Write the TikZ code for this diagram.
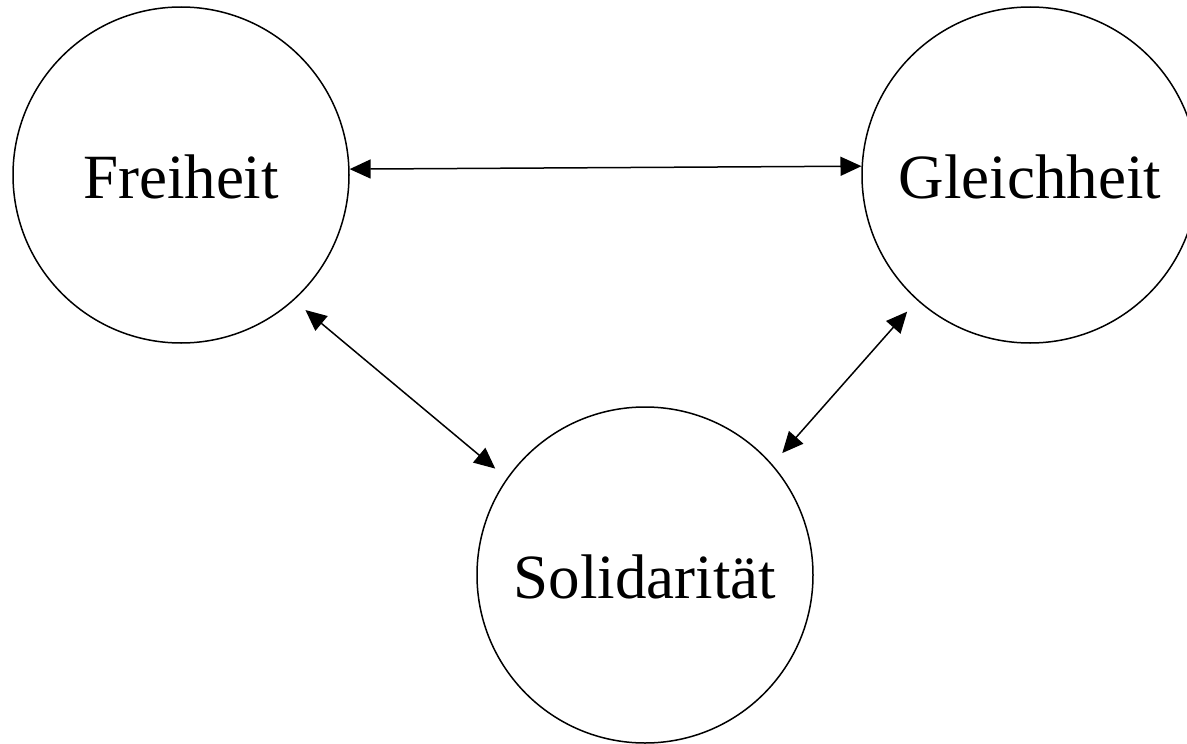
\documentclass[tikz,border=0pt]{standalone}
\usepackage{fontspec}
\setmainfont{Liberation Serif}
\usetikzlibrary{arrows.meta}
\begin{document}
\begin{tikzpicture}[x=1pt,y=-1pt,
  idea/.style={circle,draw,line width=1.5pt,minimum size=336pt,inner sep=0pt,
    font=\fontsize{63}{63}\selectfont,text height=46pt,text depth=0pt},
  tip/.style={Triangle[length=21pt,width=19pt]},
  link/.style={line width=1.5pt,{Triangle[length=21pt,width=19pt]}-{Triangle[length=21pt,width=19pt]}},
  gap/.style={shorten <=15pt,shorten >=15pt}]
  \clip (0,0) rectangle (1187,744);
  \fill[white] (0,0) rectangle (1187,744);
  % the three ideals
  \node[idea] (F) at (181,175) {Freiheit};
  \node[idea] (G) at (1030,175) {Gleichheit};
  \node[idea] (S) at (645,575) {Solidarität};
  % mutual relations
  \draw[link] (F.2.7) -- (G.177.3);
  \draw[link,gap] (F.-48.8) -- (S.145.9);
  \draw[link,gap] (G.228.5) -- (S.41.2);
\end{tikzpicture}
\end{document}
